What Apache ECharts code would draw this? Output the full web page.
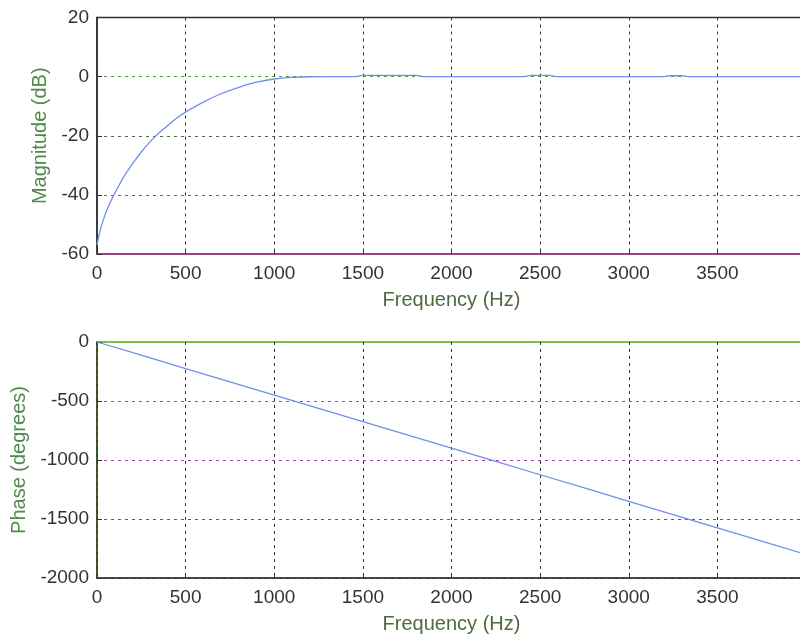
<!DOCTYPE html>
<html><head><meta charset="utf-8">
<script src="https://cdn.jsdelivr.net/npm/echarts@6/dist/echarts.min.js"></script>
<style>html,body{margin:0;padding:0;background:#fff}#c{width:800px;height:642px}</style>
</head><body><div id="c"></div>
<script>
// Magnitude response (top)
const magFreq = [0,10,25,50,75,100,150,200,250,300,350,400,450,500,600,700,800,900,1000,1100,1200,1300,1450,1500,1800,1850,2400,2450,2550,2600,3200,3230,3300,3330,4000];
const magDb   = [-57,-54,-50.5,-46,-42.5,-39.5,-34,-29.5,-25.5,-22,-19,-16.5,-14,-12,-8.6,-5.8,-3.6,-1.9,-0.8,-0.25,-0.05,0,0,0.4,0.4,0,0,0.4,0.4,0,0,0.3,0.3,0,0];
// Phase response (bottom)
const phaseFreq = [0,250,500,750,1000,1250,1500,1750,2000,2250,2500,2750,3000,3250,3500,3750,4000];
const phaseDeg  = [0,-112,-225,-337,-450,-562,-675,-787,-900,-1012,-1125,-1237,-1350,-1462,-1575,-1687,-1800];
const xTicks = {min:0, max:4000, interval:500};
const magTicks = {min:-60, max:20, interval:20};
const phaseTicks = {min:-2000, max:0, interval:500};
const xName = 'Frequency (Hz)';
const magName = 'Magnitude (dB)';
const phaseName = 'Phase (degrees)';

const font = 'Liberation Sans, Arial, sans-serif';
const chart = echarts.init(document.getElementById('c'));
const fmt = v => String(v);
const lbl = {color:'#333', fontSize:19, fontFamily:font, formatter:fmt};
function xAxis(idx, axisColor){
  return {type:'value', gridIndex:idx, min:xTicks.min, max:xTicks.max, interval:xTicks.interval,
    name:xName, nameLocation:'middle', nameGap:36,
    nameTextStyle:{color:'#4d6a3d', fontSize:20, fontFamily:font},
    axisLine:{show:true, onZero:false, lineStyle:{color:axisColor, width:1.5}},
    axisTick:{show:true, inside:true, length:5, lineStyle:{color:'#333'}},
    axisLabel:Object.assign({margin:10, showMaxLabel:false}, lbl),
    splitLine:{show:true, lineStyle:{color:'#333', type:[3,4], width:1}}};
}
function yAxis(idx, t, name, gap, colors){
  return {type:'value', gridIndex:idx, min:t.min, max:t.max, interval:t.interval,
    name:name, nameLocation:'middle', nameGap:gap, nameRotate:90,
    nameTextStyle:{color:'#4f8a4a', fontSize:20, fontFamily:font},
    axisLine:{show:true, onZero:false, lineStyle:{color:'#333', width:1.5}},
    axisTick:{show:true, inside:true, length:5, lineStyle:{color:'#333'}},
    axisLabel:Object.assign({margin:8}, lbl),
    splitLine:{show:true, lineStyle:{color:colors, type:[3,4], width:1}}};
}
chart.setOption({
  backgroundColor:'#fff',
  animation:false,
  grid:[
    {left:97, right:-6, top:17.5, height:236.5, outerBoundsMode:'none', containLabel:false, show:true, borderColor:'#333', borderWidth:1.5, backgroundColor:'#fff'},
    {left:97, right:-6, top:342, height:236, outerBoundsMode:'none', containLabel:false, show:true, borderColor:'#7ac143', borderWidth:2, backgroundColor:'#fff'}
  ],
  xAxis:[xAxis(0,'#a03c8c'), xAxis(1,'#3a2a3a')],
  yAxis:[
    yAxis(0, magTicks, magName, 44, ['#a03c8c','#b030b0','#4d6a3d','#4f9a3f','#333']),
    yAxis(1, phaseTicks, phaseName, 68, ['#333','#4d6a3d','#a040a0','#b040b0','#7ac143'])
  ],
  series:[
    {type:'line', xAxisIndex:0, yAxisIndex:0, data:magFreq.map((f,i)=>[f,magDb[i]]), showSymbol:false, smooth:0.3,
     lineStyle:{color:'#7090e8', width:1.3}},
    {type:'line', xAxisIndex:1, yAxisIndex:1, data:phaseFreq.map((f,i)=>[f,phaseDeg[i]]), showSymbol:false,
     lineStyle:{color:'#7090e8', width:1.3}}
  ]
});
</script></body></html>
